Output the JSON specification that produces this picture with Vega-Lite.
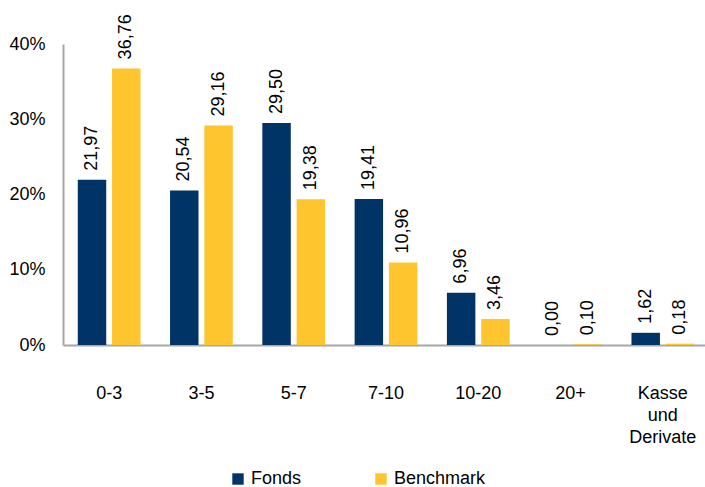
{
  "$schema": "https://vega.github.io/schema/vega-lite/v6.json",
  "width": 646,
  "height": 301,
  "autosize": "none",
  "padding": {"left": 63, "top": 44, "right": 0, "bottom": 142},
  "config": {
    "locale": {"number": {"decimal": ",", "thousands": ".", "grouping": [3], "currency": ["", " €"]}},
    "font": "Liberation Sans",
    "view": {"stroke": null}
  },
  "data": {
    "values": [
      {"cat": "0-3", "series": "Fonds", "value": 21.97},
      {"cat": "0-3", "series": "Benchmark", "value": 36.76},
      {"cat": "3-5", "series": "Fonds", "value": 20.54},
      {"cat": "3-5", "series": "Benchmark", "value": 29.16},
      {"cat": "5-7", "series": "Fonds", "value": 29.50},
      {"cat": "5-7", "series": "Benchmark", "value": 19.38},
      {"cat": "7-10", "series": "Fonds", "value": 19.41},
      {"cat": "7-10", "series": "Benchmark", "value": 10.96},
      {"cat": "10-20", "series": "Fonds", "value": 6.96},
      {"cat": "10-20", "series": "Benchmark", "value": 3.46},
      {"cat": "20+", "series": "Fonds", "value": 0.00},
      {"cat": "20+", "series": "Benchmark", "value": 0.10},
      {"cat": "Kasse und Derivate", "series": "Fonds", "value": 1.62},
      {"cat": "Kasse und Derivate", "series": "Benchmark", "value": 0.18}
    ]
  },
  "transform": [{"calculate": "datum.value / 100", "as": "frac"}],
  "encoding": {
    "x": {
      "field": "cat", "type": "nominal", "sort": null,
      "scale": {"paddingInner": 0.32, "paddingOuter": 0.16},
      "axis": {
        "title": null, "labelAngle": 0, "ticks": false, "domainColor": "#A6A6A6", "domainWidth": 2,
        "labelPadding": 39, "labelFontSize": 18, "labelColor": "#000000", "labelOverlap": false,
        "labelExpr": "datum.label == 'Kasse und Derivate' ? ['Kasse', 'und', 'Derivate'] : datum.label",
        "labelLineHeight": 22, "labelBaseline": "top"
      }
    },
    "xOffset": {"field": "series", "type": "nominal", "sort": ["Fonds", "Benchmark"], "scale": {"paddingInner": 0.17}},
    "y": {
      "field": "frac", "type": "quantitative",
      "scale": {"domain": [0, 0.4]},
      "axis": {
        "title": null, "format": ".0%", "values": [0, 0.1, 0.2, 0.3, 0.4], "labelOverlap": false,
        "grid": false, "ticks": false, "domainColor": "#A6A6A6", "domainWidth": 2,
        "labelPadding": 18, "labelFontSize": 18, "labelColor": "#000000"
      }
    }
  },
  "layer": [
    {
      "mark": {"type": "bar"},
      "encoding": {
        "color": {
          "field": "series", "type": "nominal", "sort": ["Fonds", "Benchmark"],
          "scale": {"domain": ["Fonds", "Benchmark"], "range": ["#003366", "#FFC52E"]},
          "legend": {
            "title": null, "orient": "none", "legendX": 166, "legendY": 426, "direction": "horizontal", "symbolType": "square",
            "symbolSize": 130, "labelFontSize": 18, "labelColor": "#000000", "columnPadding": 70,
            "symbolStrokeWidth": 0, "labelOffset": 4
          }
        }
      }
    },
    {
      "mark": {"type": "text", "angle": 270, "align": "left", "baseline": "middle", "dx": 9, "fontSize": 18, "color": "#000000"},
      "encoding": {
        "text": {"field": "value", "type": "quantitative", "format": ".2f"}
      }
    }
  ]
}
